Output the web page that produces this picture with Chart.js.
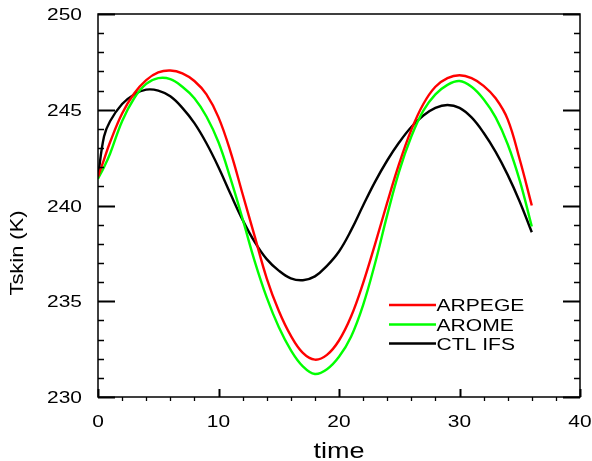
<!DOCTYPE html>
<html>
<head>
<meta charset="utf-8">
<title>Tskin</title>
<script src="https://cdn.jsdelivr.net/npm/chart.js@4/dist/chart.umd.min.js"></script>
<style>
    body { margin: 0; background: #fff; }
    #wrap { width: 592px; height: 461px; }
</style>
</head>
<body>
<div id="wrap"><canvas id="tskin-chart" width="592" height="461"></canvas></div>
<script>
// ---------- Data ----------
const hours = [0, 0.5, 1, 2, 3, 4, 5, 6, 7, 8, 9, 10, 11, 12, 13, 14, 15, 16, 17, 18,
    19, 20, 21, 22, 23, 24, 25, 26, 27, 28, 29, 30, 31, 32, 33, 34, 35, 36];

const arpege = [241.5, 242.4, 243.3, 244.8, 245.85, 246.55, 246.95, 247.05, 246.9, 246.5, 245.8,
    244.6, 242.8, 240.6, 238.4, 236.2, 234.5, 233.2, 232.3, 231.95, 232.2, 232.95, 234.2,
    235.95, 238.0, 240.15, 242.2, 243.95, 245.3, 246.2, 246.65, 246.8, 246.65, 246.25, 245.6,
    244.5, 242.4, 240.0];

const arome = [241.4, 242.0, 242.7, 244.4, 245.6, 246.35, 246.65, 246.6, 246.2, 245.6, 244.65,
    243.3, 241.4, 239.3, 237.1, 235.2, 233.65, 232.45, 231.6, 231.2, 231.45, 232.1, 233.15,
    234.8, 237.0, 239.5, 241.8, 243.6, 244.95, 245.8, 246.3, 246.5, 246.2, 245.55, 244.6,
    243.2, 241.3, 238.9];

const ctlIfs = [241.5, 243.6, 244.4, 245.3, 245.8, 246.05, 246.0, 245.7, 245.1, 244.3, 243.25,
    242.0, 240.6, 239.25, 238.1, 237.2, 236.6, 236.2, 236.1, 236.3, 236.85, 237.6, 238.7,
    240.0, 241.25, 242.35, 243.3, 244.1, 244.7, 245.1, 245.25, 245.1, 244.6, 243.8, 242.8,
    241.6, 240.2, 238.6];

const seriesNames = ['ARPEGE', 'AROME', 'CTL IFS'];
const seriesColors = ['#ff0000', '#00ff00', '#000000'];

const xTicks = [0, 10, 20, 30, 40];
const yTicks = [230, 235, 240, 245, 250];

// ---------- Helpers ----------
const FONT = '"Liberation Sans", Arial, sans-serif';

function wideText(ctx, text, x, y, size, stretch, align) {
    ctx.save();
    ctx.font = size + 'px ' + FONT;
    ctx.textAlign = align;
    ctx.textBaseline = 'alphabetic';
    ctx.translate(x, y);
    ctx.scale(stretch, 1);
    ctx.fillText(text, 0, 0);
    ctx.restore();
}

function toPoints(values) {
    return hours.map((h, i) => ({ x: h, y: values[i] }));
}

// ---------- Frame, ticks, labels, legend ----------
const framePlugin = {
    id: 'frame',
    afterDraw(chart) {
        const ctx = chart.ctx;
        const area = chart.chartArea;
        const xs = chart.scales.x;
        const ys = chart.scales.y;

        ctx.save();
        ctx.strokeStyle = '#000';
        ctx.fillStyle = '#000';

        // box
        ctx.lineWidth = 1.5;
        ctx.strokeRect(area.left, area.top, area.right - area.left, area.bottom - area.top);

        // y ticks (both sides, inward)
        for (let v = ys.min; v <= ys.max; v += 1) {
            const py = Math.round(ys.getPixelForValue(v)) + 0.5;
            const major = yTicks.includes(v);
            const len = major ? 17 : 6;
            ctx.lineWidth = major ? 2 : 1.3;
            ctx.beginPath();
            ctx.moveTo(area.left, py);
            ctx.lineTo(area.left + len, py);
            ctx.moveTo(area.right, py);
            ctx.lineTo(area.right - len, py);
            ctx.stroke();
        }

        // x ticks: majors point up, minors hang below
        for (let t = xs.min; t <= xs.max; t += 2) {
            const px = Math.round(xs.getPixelForValue(t)) + 0.5;
            const major = xTicks.includes(t);
            ctx.lineWidth = major ? 2 : 1.3;
            ctx.beginPath();
            if (major) {
                ctx.moveTo(px, area.bottom);
                ctx.lineTo(px, area.bottom - 8);
            } else {
                ctx.moveTo(px, area.bottom);
                ctx.lineTo(px, area.bottom + 4);
            }
            ctx.stroke();
        }

        // tick labels
        yTicks.forEach(v => {
            wideText(ctx, String(v), area.left - 16, ys.getPixelForValue(v) + 6.2, 17, 1.23, 'right');
        });
        xTicks.forEach(t => {
            wideText(ctx, String(t), xs.getPixelForValue(t), area.bottom + 30, 17, 1.23, 'center');
        });

        // axis titles
        wideText(ctx, 'time', 339, 458, 22, 1.23, 'center');
        ctx.save();
        ctx.translate(23.3, 253);
        ctx.rotate(-Math.PI / 2);
        wideText(ctx, 'Tskin (K)', 0, 0, 19, 1.15, 'center');
        ctx.restore();

        // legend
        const legendY = [305, 324.5, 343.5];
        chart.data.datasets.forEach((ds, i) => {
            ctx.strokeStyle = ds.borderColor;
            ctx.lineWidth = 2.5;
            ctx.beginPath();
            ctx.moveTo(389, legendY[i]);
            ctx.lineTo(436, legendY[i]);
            ctx.stroke();
            ctx.fillStyle = '#000';
            wideText(ctx, ds.label, 436.5, legendY[i] + 6.3, 17, 1.24, 'left');
        });

        ctx.restore();
    }
};

// ---------- Chart ----------
const ctx = document.getElementById('tskin-chart').getContext('2d');
const datasets = [arpege, arome, ctlIfs].map((values, i) => ({
    label: seriesNames[i],
    data: toPoints(values),
    borderColor: seriesColors[i],
    borderWidth: 2.4,
    pointRadius: 0,
    fill: false,
    tension: 0.4
}));

new Chart(ctx, {
    type: 'line',
    data: { datasets: datasets },
    options: {
        responsive: false,
        animation: false,
        layout: { padding: { left: 98, right: 12, top: 14, bottom: 64 } },
        plugins: {
            legend: { display: false },
            tooltip: { enabled: false }
        },
        scales: {
            x: { type: 'linear', min: 0, max: 40, display: false },
            y: { min: 230, max: 250, display: false }
        }
    },
    plugins: [framePlugin]
});
</script>
</body>
</html>
